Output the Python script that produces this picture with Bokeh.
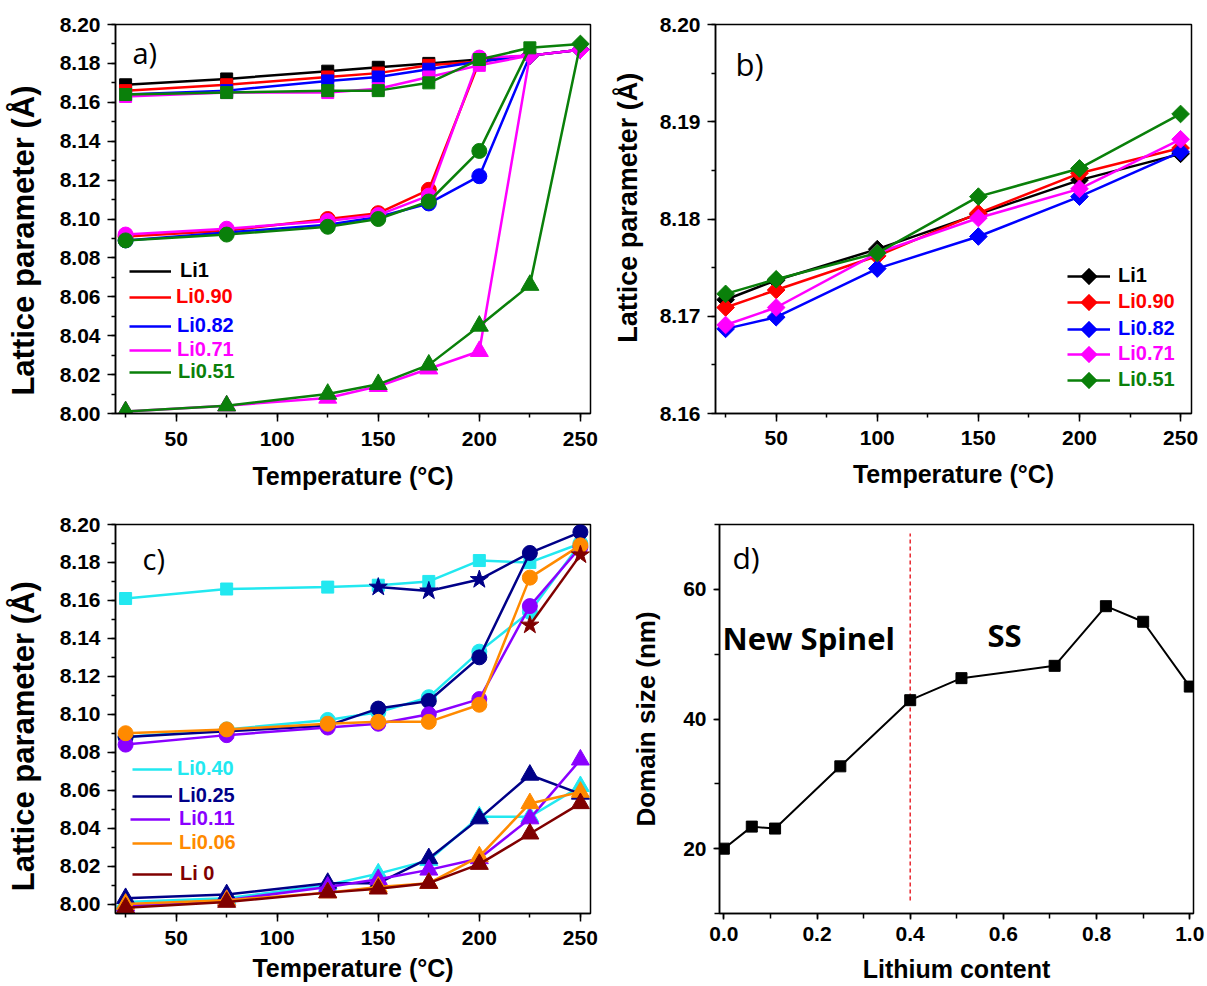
import math
from bokeh.plotting import figure
from bokeh.models import (Range1d, SingleIntervalTicker, PrintfTickFormatter, Legend, LegendItem,
                          Label, PolyAnnotation)
from bokeh.layouts import column, row
from bokeh.embed import file_html
from bokeh.resources import INLINE

# ---------------- data ----------------
temps = [25, 75, 125, 150, 175, 200, 225, 250]

# panel a) : phases (upper = squares, mid = circles, low = triangles, single = diamonds)
a_names = ["Li1", "Li0.90", "Li0.82", "Li0.71", "Li0.51"]
a_colors = ["#000000", "#FF0000", "#0000FF", "#FF00FF", "#0A800A"]
a_upper = [
    [8.169, 8.172, 8.176, 8.178, 8.180, 8.182, None, None],
    [8.166, 8.169, 8.173, 8.175, 8.179, None, None, None],
    [8.164, 8.166, 8.171, 8.173, 8.177, 8.181, None, None],
    [8.163, 8.165, 8.165, 8.167, 8.173, 8.179, None, None],
    [8.164, 8.165, 8.166, 8.166, 8.170, 8.182, 8.188, None],
]
a_mid = [
    [None, None, None, None, None, None, None, None],
    [8.091, 8.094, 8.100, 8.103, 8.115, None, None, None],
    [8.089, 8.093, 8.097, 8.101, 8.108, 8.122, None, None],
    [8.092, 8.095, 8.099, 8.102, 8.112, 8.183, None, None],
    [8.089, 8.092, 8.096, 8.100, 8.109, 8.135, None, None],
]
a_low = [
    [None, None, None, None, None, None, None, None],
    [None, None, None, None, None, None, None, None],
    [None, None, None, None, None, None, None, None],
    [8.001, 8.004, 8.008, 8.014, 8.023, 8.032, None, None],
    [8.001, 8.004, 8.010, 8.015, 8.025, 8.045, 8.066, None],
]
a_single = [
    [None, None, None, None, None, None, 8.184, 8.187],
    [None, None, None, None, None, 8.181, 8.184, 8.187],
    [None, None, None, None, None, None, 8.184, 8.187],
    [None, None, None, None, None, None, 8.184, 8.187],
    [None, None, None, None, None, None, None, 8.190],
]

# panel b)
b_temps = [25, 50, 100, 150, 200, 250]
b_names = ["Li1", "Li0.90", "Li0.82", "Li0.71", "Li0.51"]
b_colors = ["#000000", "#FF0000", "#0000FF", "#FF00FF", "#0A800A"]
b_values = [
    [8.1717, 8.1737, 8.1769, 8.1805, 8.1840, 8.1867],
    [8.1709, 8.1727, 8.1762, 8.1806, 8.1847, 8.1873],
    [8.1687, 8.1699, 8.1749, 8.1782, 8.1823, 8.1869],
    [8.1691, 8.1709, 8.1765, 8.1801, 8.1831, 8.1882],
    [8.1723, 8.1738, 8.1765, 8.1823, 8.1852, 8.1908],
]

# panel c)
c_names = ["Li0.40", "Li0.25", "Li0.11", "Li0.06", "Li 0"]
c_colors = ["#22E8F0", "#000088", "#8A00FF", "#FF8A00", "#800000"]
c_upper_marker = ["square", "star", None, None, "star"]
c_upper = [
    [8.161, 8.166, 8.167, 8.168, 8.170, 8.181, 8.180, None],
    [None, None, None, 8.167, 8.165, 8.171, None, None],
    [None, None, None, None, None, None, None, None],
    [None, None, None, None, None, None, None, None],
    [None, None, None, None, None, None, 8.147, 8.184],
]
c_mid = [
    [8.088, 8.092, 8.097, 8.101, 8.109, 8.133, 8.154, 8.190],
    [8.088, 8.091, 8.094, 8.103, 8.107, 8.130, 8.185, 8.196],
    [8.084, 8.089, 8.093, 8.095, 8.100, 8.108, 8.157, 8.188],
    [8.090, 8.092, 8.095, 8.096, 8.096, 8.105, 8.172, 8.189],
    [None, None, None, None, None, None, None, None],
]
c_low = [
    [8.001, 8.003, 8.010, 8.016, 8.023, 8.046, 8.046, 8.062],
    [8.003, 8.005, 8.011, 8.011, 8.024, 8.045, 8.068, 8.058],
    [7.999, 8.002, 8.009, 8.013, 8.018, 8.024, 8.045, 8.076],
    [8.000, 8.002, 8.006, 8.009, 8.011, 8.025, 8.053, 8.059],
    [7.998, 8.001, 8.006, 8.008, 8.011, 8.021, 8.037, 8.053],
]

# panel d)
d_li = [0.0, 0.06, 0.11, 0.25, 0.40, 0.51, 0.71, 0.82, 0.90, 1.0]
d_size = [20.0, 23.4, 23.1, 32.7, 42.9, 46.3, 48.2, 57.4, 55.0, 45.0]
d_boundary = [0.4]
d_boundary_span = [12.0, 68.6]

FONT = "Liberation Sans"
NB = "\u00a0"


# ---------------- helpers ----------------
def pts(vals):
    xs = [t for t, v in zip(temps, vals) if v is not None]
    ys = [v for v in vals if v is not None]
    return xs, ys


def join_line(vals, tops):
    idx = [i for i, v in enumerate(vals) if v is not None]
    if not idx:
        return [], []
    xs = [temps[i] for i in idx]
    ys = [vals[i] for i in idx]
    nxt = idx[-1] + 1
    if nxt < len(temps) and tops[nxt] is not None:
        xs.append(temps[nxt])
        ys.append(tops[nxt])
    return xs, ys


def style(p, xlabel, ylabel, ylabel_size, tick_out=8, minor_out=4,
          x_std=7, x_lab_std=10, y_std=7, y_lab_std=18):
    p.xgrid.visible = False
    p.ygrid.visible = False
    p.outline_line_color = "black"
    p.outline_line_width = 1.5
    p.background_fill_color = "white"
    p.border_fill_color = "white"
    for ax in (p.xaxis[0], p.yaxis[0]):
        ax.axis_line_width = 1.5
        ax.axis_line_color = "black"
        ax.major_tick_line_width = 1.5
        ax.minor_tick_line_width = 1.5
        ax.major_tick_out = tick_out
        ax.major_tick_in = 0
        ax.minor_tick_out = minor_out
        ax.minor_tick_in = 0
        ax.major_label_text_font = FONT
        ax.major_label_text_font_style = "bold"
        ax.major_label_text_font_size = "21px"
        ax.major_label_text_color = "black"
        ax.axis_label_text_font = FONT
        ax.axis_label_text_font_style = "bold"
        ax.axis_label_text_color = "black"
    p.xaxis[0].axis_label = xlabel
    p.xaxis[0].axis_label_text_font_size = "25px"
    p.yaxis[0].axis_label = ylabel
    p.yaxis[0].axis_label_text_font_size = ylabel_size
    p.xaxis[0].major_label_standoff = x_std
    p.xaxis[0].axis_label_standoff = x_lab_std
    p.yaxis[0].major_label_standoff = y_std
    p.yaxis[0].axis_label_standoff = y_lab_std


def add_key(p, renderers, text, color, vx, vy, gw, gh, standoff):
    lg = Legend(items=[LegendItem(label=text, renderers=renderers)],
                location=(vx, vy), padding=0, spacing=0, margin=0,
                glyph_width=gw, glyph_height=gh, label_height=gh,
                label_standoff=standoff,
                label_text_font=FONT, label_text_font_style="bold",
                label_text_font_size="20px", label_text_color=color,
                background_fill_alpha=0, border_line_alpha=0)
    p.add_layout(lg)


def add_key_diamond(p, cx, cy, r, col):
    p.add_layout(PolyAnnotation(xs=[cx, cx + r, cx, cx - r], ys=[cy + r, cy, cy - r, cy],
                                xs_units="screen", ys_units="screen",
                                fill_color=col, fill_alpha=1.0, line_color=col, line_width=1))


def add_tag(p, text, vx, vy, size, bold=False):
    p.add_layout(Label(x=vx, y=vy, x_units="screen", y_units="screen", text=text,
                       text_font="Open Sans", text_font_size=size,
                       text_font_style="bold" if bold else "normal",
                       text_color="black", text_align="left",
                       text_baseline="alphabetic"))


LW = 2.5
YLAB = "Lattice parameter (Å)"

# ---------------- panel a ----------------
pa = figure(width=600, height=493, x_range=Range1d(20, 255), y_range=Range1d(8.0, 8.2),
            output_backend="svg", toolbar_location=None,
            min_border_left=115, min_border_right=10, min_border_top=24, min_border_bottom=80)
pa.xaxis[0].ticker = SingleIntervalTicker(interval=50, num_minor_ticks=2)
pa.yaxis[0].ticker = SingleIntervalTicker(interval=0.02, num_minor_ticks=2)
pa.yaxis[0].formatter = PrintfTickFormatter(format="%.2f")
style(pa, "Temperature (°C)", YLAB + NB * 5, "31px", x_std=10, x_lab_std=13, y_lab_std=16)

a_keys = []
for k in range(len(a_names)):
    col = a_colors[k]
    tops = [s if s is not None else u for u, s in zip(a_upper[k], a_single[k])]
    xs, ys = join_line(tops, tops)
    r_up = pa.line(xs, ys, line_color=col, line_width=LW)
    a_keys.append(r_up)
    for vals in (a_mid[k], a_low[k]):
        xs, ys = join_line(vals, tops)
        if xs:
            pa.line(xs, ys, line_color=col, line_width=LW)
    xs, ys = pts(a_upper[k])
    pa.scatter(xs, ys, marker="square", size=12, color=col)
    xs, ys = pts(a_mid[k])
    if xs:
        pa.scatter(xs, ys, marker="circle", size=15, color=col)
    xs, ys = pts(a_low[k])
    if xs:
        pa.scatter(xs, ys, marker="triangle", size=18, color=col)
    xs, ys = pts(a_single[k])
    pa.scatter(xs, ys, marker="square", angle=math.pi / 4, size=12.5, color=col)

a_key_pos = [(14, 131, 9), (14, 105, 5), (14, 76, 6), (14, 52, 6), (14, 30, 7)]
for k, (vx, vy, so) in enumerate(a_key_pos):
    add_key(pa, [a_keys[k]], a_names[k], a_colors[k], vx, vy, 42, 20, so)
add_tag(pa, "a)", 17, 361, "29px")

# ---------------- panel b ----------------
pb = figure(width=607, height=493, x_range=Range1d(20, 255.4), y_range=Range1d(8.16, 8.20),
            output_backend="svg", toolbar_location=None,
            min_border_left=115, min_border_right=16, min_border_top=24, min_border_bottom=78)
pb.xaxis[0].ticker = SingleIntervalTicker(interval=50, num_minor_ticks=2)
pb.yaxis[0].ticker = SingleIntervalTicker(interval=0.01, num_minor_ticks=2)
pb.yaxis[0].formatter = PrintfTickFormatter(format="%.2f")
style(pb, "Temperature (°C)", NB * 3 + YLAB, "27px", x_std=9, x_lab_std=12, y_lab_std=14)

b_key_centers = [278, 304, 331, 356, 382]   # legend rows (px from top of page)
for k in range(len(b_names)):
    col = b_colors[k]
    rl = pb.line(b_temps, b_values[k], line_color=col, line_width=LW)
    pb.scatter(b_temps, b_values[k], marker="square", angle=math.pi / 4, size=12.5, color=col)
    c = b_key_centers[k]
    add_key(pb, [rl], b_names[k], col, 352, 415 - c - 11, 43, 20, 8)
    add_key_diamond(pb, 373.5, 415 - c, 8.5, col)
add_tag(pb, "b)", 20, 350, "31px")

# ---------------- panel c ----------------
pc = figure(width=600, height=493, x_range=Range1d(20, 255), y_range=Range1d(7.995, 8.2),
            output_backend="svg", toolbar_location=None,
            min_border_left=115, min_border_right=10, min_border_top=30, min_border_bottom=73)
pc.xaxis[0].ticker = SingleIntervalTicker(interval=50, num_minor_ticks=2)
pc.yaxis[0].ticker = SingleIntervalTicker(interval=0.02, num_minor_ticks=2)
pc.yaxis[0].formatter = PrintfTickFormatter(format="%.2f")
style(pc, "Temperature (°C)", YLAB + NB * 4, "31px", x_std=9, x_lab_std=6, y_lab_std=16)

c_keys = []
for k in range(len(c_names)):
    col = c_colors[k]
    first = None
    xs, ys = join_line(c_upper[k], c_mid[k])
    if xs:
        first = pc.line(xs, ys, line_color=col, line_width=LW)
    xs, ys = join_line(c_mid[k], c_mid[k])
    if xs:
        r = pc.line(xs, ys, line_color=col, line_width=LW)
        first = first or r
    xs, ys = join_line(c_low[k], c_low[k])
    r = pc.line(xs, ys, line_color=col, line_width=LW)
    first = first or r
    c_keys.append(first)
    xs, ys = pts(c_upper[k])
    if xs:
        if c_upper_marker[k] == "star":
            pc.scatter(xs, ys, marker="star", size=19, color=col)
        else:
            pc.scatter(xs, ys, marker="square", size=12, color=col)
    xs, ys = pts(c_mid[k])
    if xs:
        pc.scatter(xs, ys, marker="circle", size=15, color=col)
    xs, ys = pts(c_low[k])
    pc.scatter(xs, ys, marker="triangle", size=18, color=col)

c_key_pos = [(17, 133, 5), (17, 106, 6), (15, 83, 9), (17, 59, 7), (17, 28, 8)]
for k, (vx, vy, so) in enumerate(c_key_pos):
    add_key(pc, [c_keys[k]], c_names[k], c_colors[k], vx, vy, 40, 20, so)
add_tag(pc, "c)", 27, 355, "29px")

# ---------------- panel d ----------------
pd_ = figure(width=607, height=493, x_range=Range1d(-0.0093, 1.008), y_range=Range1d(10, 70),
             output_backend="svg", toolbar_location=None,
             min_border_left=119, min_border_right=14, min_border_top=31, min_border_bottom=72)
pd_.xaxis[0].ticker = SingleIntervalTicker(interval=0.2, num_minor_ticks=2)
pd_.yaxis[0].ticker = SingleIntervalTicker(interval=20, num_minor_ticks=2)
pd_.xaxis[0].formatter = PrintfTickFormatter(format="%.1f")
style(pd_, "Lithium content", "Domain size (nm)", "26px", tick_out=6, minor_out=5,
      x_std=7, x_lab_std=11, y_std=7, y_lab_std=19)
pd_.segment(x0=d_boundary, y0=[d_boundary_span[0]], x1=d_boundary, y1=[d_boundary_span[1]],
            line_color="#E8262E", line_width=1.5, line_dash="4 3")
pd_.line(d_li, d_size, line_color="black", line_width=2)
pd_.scatter(d_li, d_size, marker="square", size=11, color="black")
add_tag(pd_, "d)", 13, 356, "30px")
add_tag(pd_, "New Spinel", 3, 276, "31px", bold=True)
add_tag(pd_, "SS", 268, 279, "31px", bold=True)

layout = column(row(pa, pb, spacing=0), row(pc, pd_, spacing=0), spacing=0)
open("out.html", "w").write(file_html(layout, INLINE))
